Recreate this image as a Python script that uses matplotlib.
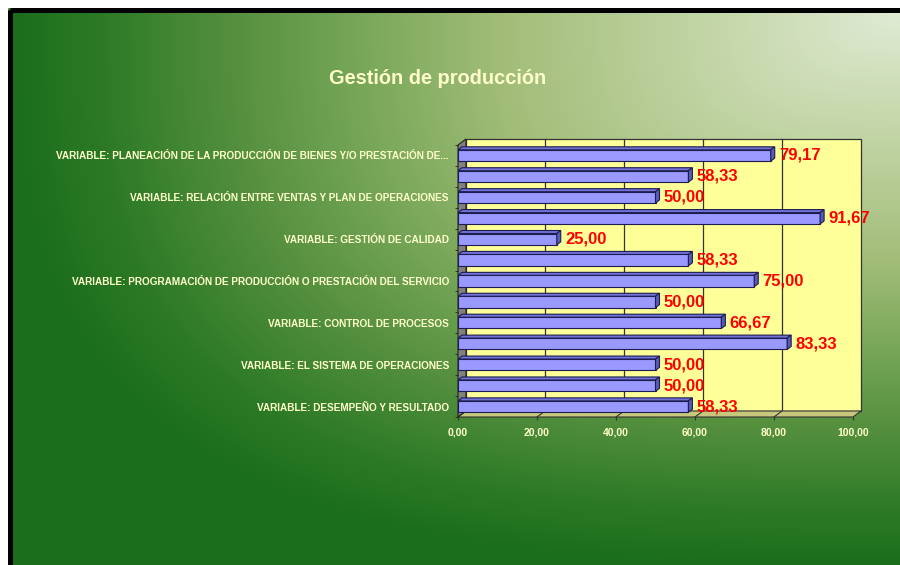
import numpy as np
import matplotlib
matplotlib.use("Agg")
import matplotlib.pyplot as plt
from matplotlib.colors import LinearSegmentedColormap
from matplotlib.patches import Polygon, Rectangle
from matplotlib.transforms import ScaledTranslation

plt.rcParams["font.family"] = ["Liberation Sans", "DejaVu Sans"]

TITLE = "Gestión de producción"

# one bar per item, listed top to bottom
values = [79.17, 58.33, 50.00, 91.67, 25.00, 58.33, 75.00,
          50.00, 66.67, 83.33, 50.00, 50.00, 58.33]

# labels shown on every other bar (0, 2, 4, ...)
category_labels = [
    "VARIABLE: PLANEACIÓN DE LA PRODUCCIÓN DE BIENES Y/O PRESTACIÓN DE...",
    "VARIABLE: RELACIÓN ENTRE VENTAS Y PLAN DE OPERACIONES",
    "VARIABLE: GESTIÓN DE CALIDAD",
    "VARIABLE: PROGRAMACIÓN DE PRODUCCIÓN O PRESTACIÓN DEL SERVICIO",
    "VARIABLE: CONTROL DE PROCESOS",
    "VARIABLE: EL SISTEMA DE OPERACIONES",
    "VARIABLE: DESEMPEÑO Y RESULTADO",
]
x_ticks = [0, 20, 40, 60, 80, 100]

TEXT_COLOR = "#ffffcc"
LABEL_COLOR = "#ff0000"


def fmt(v):
    return f"{v:.2f}".replace(".", ",")


W, H = 900, 565
fig = plt.figure(figsize=(W / 100, H / 100), dpi=100)

# background: green gradient lit from the top-right corner
bg = fig.add_axes([0, 0, 1, 1])
bg.set_xlim(0, W)
bg.set_ylim(H, 0)
bg.axis("off")
yy, xx = np.mgrid[0:H, 0:W].astype(float)
gx = (W - xx) / (W - 12)
gy = (yy - 12) / (H - 12)
t = np.clip((gx ** 3 + gy ** 3) ** (1 / 3), 0, 1)
cmap = LinearSegmentedColormap.from_list("bg", [
    (0.0, "#e0ead4"), (0.2, "#c5d7aa"), (0.45, "#a2bd78"), (0.6, "#7aa85a"),
    (0.75, "#55903f"), (0.9, "#2d7a26"), (1.0, "#1b6e1b")])
bg.imshow(t, cmap=cmap, vmin=0, vmax=1, extent=(0, W, H, 0), aspect="auto")
bg.add_patch(Rectangle((0, 0), 7, H, color="white"))
bg.add_patch(Rectangle((0, 0), W, 7, color="white"))
bg.add_patch(Rectangle((9.5, 9.5), W + 20, H + 20, fill=False,
                       edgecolor="black", linewidth=3.6))

fig.text(438 / W, 1 - 78 / H, TITLE, ha="center", va="center",
         fontsize=14.4, fontweight="bold", color=TEXT_COLOR)

# front plane of the 3D plot box
ax_l, ax_t, ax_w, ax_h = 458, 145, 395, 272
ax = fig.add_axes([ax_l / W, 1 - (ax_t + ax_h) / H, ax_w / W, ax_h / H])
ax.patch.set_visible(False)
for s in ax.spines.values():
    s.set_visible(False)

n = len(values)
pos = np.arange(n)
ax.set_xlim(0, 100)
ax.set_ylim(n - 0.5, -0.5)

# wall depth (px) and bar depth (px)
wall_dx, wall_dy = 8, 6
bar_dx, bar_dy = 4, 3
wdx, wdy = wall_dx / ax_w, wall_dy / ax_h
back = ax.transAxes + ScaledTranslation(wall_dx / 100, wall_dy / 100, fig.dpi_scale_trans)
back_x = ax.get_xaxis_transform() + ScaledTranslation(wall_dx / 100, wall_dy / 100,
                                                      fig.dpi_scale_trans)

ax.add_patch(Rectangle((0, 0), 1, 1, transform=back, facecolor="#ffff99",
                       edgecolor="#333333", linewidth=0.9, clip_on=False, zorder=0))
for v in x_ticks[1:-1]:
    ax.plot([v, v], [0, 1], transform=back_x, color="#333333", linewidth=0.9,
            clip_on=False, zorder=0.5)

# floor and left wall
ax.add_patch(Polygon([(0, 0), (1, 0), (1 + wdx, wdy), (wdx, wdy)], closed=True,
                     transform=ax.transAxes, facecolor="#c8c87c", edgecolor="#333333",
                     linewidth=0.8, clip_on=False, zorder=1))
for v in x_ticks[1:-1]:
    ax.plot([v / 100, v / 100 + wdx], [0, wdy], transform=ax.transAxes,
            color="#333333", linewidth=0.8, clip_on=False, zorder=1.2)
ax.add_patch(Polygon([(0, 0), (0, 1), (wdx, 1 + wdy), (wdx, wdy)], closed=True,
                     transform=ax.transAxes, facecolor="#808080", edgecolor="#222222",
                     linewidth=0.8, clip_on=False, zorder=1))

# bars: front faces plus top and end faces for the 3D look
bh = 0.54
ax.barh(pos, values, height=bh, color="#9999ff", edgecolor="#1c1c50",
        linewidth=0.8, zorder=3)
ddx = bar_dx * 100 / ax_w
ddy = bar_dy * n / ax_h
for p, v in zip(pos, values):
    top = p - bh / 2
    bot = p + bh / 2
    ax.add_patch(Polygon([(0, top), (v, top), (v + ddx, top - ddy), (ddx, top - ddy)],
                         closed=True, facecolor="#7272d8", edgecolor="#1c1c50",
                         linewidth=0.8, zorder=3))
    ax.add_patch(Polygon([(v, top), (v + ddx, top - ddy), (v + ddx, bot - ddy), (v, bot)],
                         closed=True, facecolor="#5a5ab8", edgecolor="#1c1c50",
                         linewidth=0.8, zorder=3))
    ax.annotate(fmt(v), xy=(v + ddx, p), xytext=(3, 0), textcoords="offset points",
                ha="left", va="center", color=LABEL_COLOR, fontsize=12,
                fontweight="bold", zorder=4)

ax.set_xticks(x_ticks)
ax.set_xticklabels([fmt(v) for v in x_ticks], fontsize=7.5, fontweight="bold",
                   color=TEXT_COLOR)
ax.tick_params(axis="x", length=2.2, color="#333333", pad=5.5)

ax.set_yticks(pos[::2])
ax.set_yticklabels(category_labels, fontsize=7.2, fontweight="bold", color=TEXT_COLOR)
ax.set_yticks(np.arange(-0.5, n, 1), minor=True)
ax.tick_params(axis="y", which="major", length=0, pad=6.5)
ax.tick_params(axis="y", which="minor", length=2.2, color="#222222")

fig.savefig("out.png", dpi=100)
